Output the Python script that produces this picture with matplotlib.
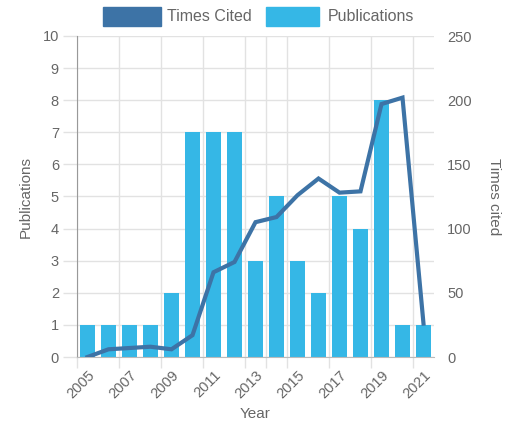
import numpy as np
import matplotlib.pyplot as plt
from matplotlib.patches import Rectangle

plt.rcParams['font.family'] = ['Liberation Sans', 'DejaVu Sans']

years = [2005, 2006, 2007, 2008, 2009, 2010, 2011, 2012, 2013,
         2014, 2015, 2016, 2017, 2018, 2019, 2020, 2021]
publications = [1, 1, 1, 1, 2, 7, 7, 7, 3, 5, 3, 2, 5, 4, 8, 1, 1]
times_cited = [0, 6, 7, 8, 6, 17, 66, 74, 105, 109, 126, 139, 128, 129, 197, 202, 26]
shown_labels = [2005, 2007, 2009, 2011, 2013, 2015, 2017, 2019, 2021]
grid_after = [2005, 2007, 2009, 2011, 2013, 2014, 2015, 2017, 2019, 2021]

bar_color = '#35b7e6'
line_color = '#3d73a6'
grid_color = '#e2e2e2'
text_color = '#666666'

W, H = 514, 423
fig = plt.figure(figsize=(W / 100, H / 100), dpi=100)
ax = fig.add_axes([77 / W, 1 - 357 / H, (434 - 77) / W, (357 - 36) / H])

x = np.arange(len(years))
ax.bar(x, publications, width=0.74, color=bar_color, zorder=2)
ax.set_xlim(-0.5, len(years) - 0.5)
ax.set_ylim(0, 10)
ax.set_yticks(range(0, 11))

# x ticks: labels at every other year, grid/tick marks on the category edges
ax.set_xticks([years.index(y) for y in shown_labels])
ax.set_xticklabels([str(y) for y in shown_labels], rotation=45, ha='right',
                   rotation_mode='anchor', color=text_color, fontsize=10.5)
ax.tick_params(axis='x', which='major', length=0, pad=8)
ax.set_xticks([years.index(y) - 0.5 for y in grid_after], minor=True)
ax.tick_params(axis='x', which='minor', length=8, color=grid_color, width=1)
ax.grid(True, which='minor', axis='x', color=grid_color, linewidth=1, zorder=0)
ax.grid(True, which='major', axis='y', color=grid_color, linewidth=1, zorder=0)
ax.tick_params(axis='y', length=10, color=grid_color, width=1,
               labelcolor=text_color, labelsize=10.5, pad=3)

for s in ['top', 'right']:
    ax.spines[s].set_visible(False)
ax.spines['left'].set_color('#999999')
ax.spines['bottom'].set_color('#bbbbbb')
ax.set_axisbelow(True)

ax.set_xlabel('Year', color=text_color, fontsize=11, labelpad=4)
ax.set_ylabel('Publications', color=text_color, fontsize=11, labelpad=7)

ax2 = ax.twinx()
ax2.plot(x, times_cited, color=line_color, linewidth=3, zorder=3,
         solid_joinstyle='miter')
ax2.set_ylim(0, 250)
ax2.set_yticks(range(0, 251, 50))
ax2.tick_params(axis='y', length=0, labelcolor=text_color, labelsize=10.5, pad=9.5)
for s in ['top', 'right', 'left', 'bottom']:
    ax2.spines[s].set_visible(False)
ax2.set_ylabel('Times cited', color=text_color, fontsize=11, rotation=-90,
               labelpad=21)

# legend boxes like the original
fig.patches.append(Rectangle((103 / W, 1 - 26 / H), 58 / W, 19 / H,
                             transform=fig.transFigure, color=line_color))
fig.text(167 / W, 1 - 16.5 / H, 'Times Cited', color=text_color,
         fontsize=11.5, va='center')
fig.patches.append(Rectangle((266 / W, 1 - 26 / H), 53 / W, 19 / H,
                             transform=fig.transFigure, color=bar_color))
fig.text(328 / W, 1 - 16.5 / H, 'Publications', color=text_color,
         fontsize=11.5, va='center')

fig.savefig('out.png', dpi=100)
